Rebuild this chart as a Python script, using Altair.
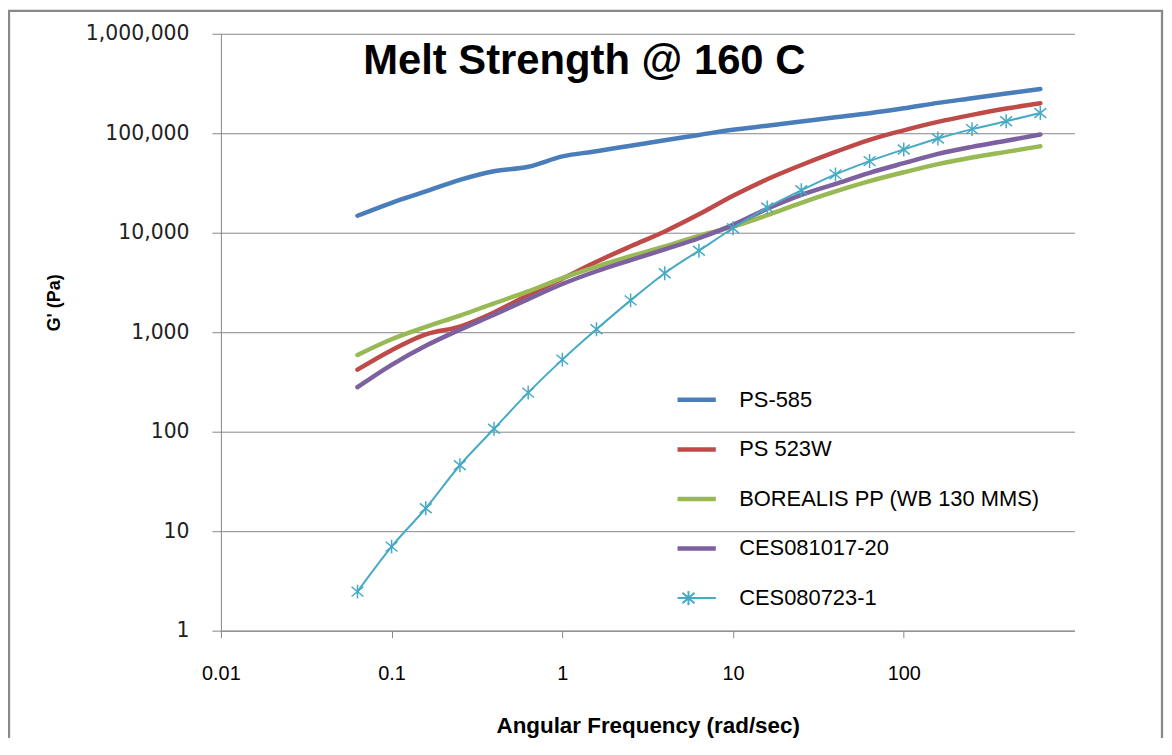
import altair as alt
import pandas as pd

# ---------------- data ----------------
freq = [0.0631, 0.1, 0.1585, 0.2512, 0.3981, 0.631, 1.0, 1.585, 2.512, 3.981,
        6.31, 10.0, 15.85, 25.12, 39.81, 63.1, 100.0, 158.5, 251.2, 398.1, 631.0]

ps585 = [14800, 20000, 26000, 34000, 41500, 46000, 58500, 66000, 75000, 85000,
         96000, 108500, 119000, 131000, 144500, 159000, 178000, 202000, 225000, 251000, 279000]
ps523w = [420, 660, 950, 1140, 1580, 2370, 3450, 5100, 7300, 10300,
          15300, 23500, 34500, 48000, 65000, 86000, 107000, 130000, 153000, 177000, 200000]
borealis = [590, 850, 1130, 1470, 1950, 2570, 3500, 4570, 5800, 7300,
            9300, 11500, 15000, 20000, 26000, 33000, 40500, 49000, 57000, 65000, 74000]
ces081017 = [280, 470, 730, 1060, 1500, 2150, 3050, 4100, 5300, 6800,
             8800, 12000, 17400, 24000, 31000, 40000, 50000, 62000, 73000, 84000, 97000]
ces080723 = [2.47, 7.0, 17, 46, 107, 247, 530, 1070, 2090, 3920,
             6600, 11100, 17900, 26700, 38600, 52500, 68700, 88500, 110000, 132000, 160000]

series_names = ["PS-585", "PS 523W", "BOREALIS PP (WB 130 MMS)", "CES081017-20", "CES080723-1"]
series_values = [ps585, ps523w, borealis, ces081017, ces080723]
colors = ["#4A7EBB", "#BE4B48", "#98B954", "#7D60A0", "#46AAC5"]
marker_series = "CES080723-1"

x_ticks = [0.01, 0.1, 1, 10, 100]
y_ticks = [1, 10, 100, 1000, 10000, 100000, 1000000]

chart_title = "Melt Strength @ 160 C"
x_title = "Angular Frequency (rad/sec)"
y_title = "G' (Pa)"

rows = []
for name, vals in zip(series_names, series_values):
    for f, v in zip(freq, vals):
        rows.append({"freq": f, "G": v, "series": name})
df = pd.DataFrame(rows)

# ---------------- styling ----------------
W, H = 858, 600
GRID = "#868686"
STAR = "M0,-1L0,1M-0.85,-0.7L0.85,0.7M-0.85,0.7L0.85,-0.7"
LEG_STAR = "M-1,0L1,0M0,-0.26L0,0.26M-0.22,-0.19L0.22,0.19M-0.22,0.19L0.22,-0.19"

x_enc = alt.X(
    "freq:Q",
    scale=alt.Scale(type="log", domain=[0.01, 1000], nice=False),
    axis=alt.Axis(
        values=x_ticks, format="~g", title=x_title, grid=False,
        domainColor=GRID, domainWidth=1, tickColor=GRID, tickSize=7, tickWidth=1,
        labelFont="Liberation Sans", labelFontSize=20, labelColor="#000000",
        labelBaseline="alphabetic", labelPadding=42, labelFlush=False, labelOverlap=False,
        titleFont="Liberation Sans", titleFontWeight="bold", titleFontSize=22.5, titleColor="#000000",
        titleX=W / 2, titleY=102, titleAlign="center", titleBaseline="alphabetic",
    ),
)
y_enc = alt.Y(
    "G:Q",
    scale=alt.Scale(type="log", domain=[1, 1000000], nice=False),
    axis=alt.Axis(
        values=y_ticks, format=",", title=y_title, grid=True, gridColor=GRID, gridWidth=1,
        domainColor=GRID, domainWidth=1, tickColor=GRID, tickSize=9, tickWidth=1,
        labelFont="DejaVu Sans", labelFontSize=20.5, labelColor="#222222",
        labelPadding=23, labelFlush=False, labelOverlap=False,
        titleFont="Liberation Sans", titleFontWeight="bold", titleFontSize=18, titleColor="#000000",
        titleAngle=270, titleX=-167, titleY=270, titleAlign="center", titleBaseline="middle",
    ),
)

legend = alt.Legend(
    title=None, orient="none", legendX=459, legendY=357, direction="vertical",
    symbolType=alt.ExprRef(expr=f"datum.value === '{marker_series}' ? '{LEG_STAR}' : 'stroke'"),
    symbolSize=3025,
    symbolStrokeWidth=alt.ExprRef(expr=f"datum.value === '{marker_series}' ? 2 : 4.5"),
    labelFont="Liberation Sans", labelFontSize=22, labelColor="#000000", labelOffset=40,
    rowPadding=27.8, clipHeight=22, padding=0, symbolOffset=0, labelLimit=500,
)

lines = alt.Chart(df).mark_line(interpolate="monotone", strokeCap="round", strokeJoin="round").encode(
    x=x_enc,
    y=y_enc,
    color=alt.Color("series:N", scale=alt.Scale(domain=series_names, range=colors),
                    sort=series_names, legend=legend),
    strokeWidth=alt.condition(alt.datum.series == marker_series, alt.value(2), alt.value(4.5)),
)

points = alt.Chart(df).transform_filter(alt.datum.series == marker_series).mark_point(
    shape=STAR, filled=False, size=196, strokeWidth=1.5, color=colors[4], opacity=1
).encode(x=x_enc, y=y_enc)

title = alt.Chart(pd.DataFrame({"t": [chart_title]})).mark_text(
    align="left", baseline="alphabetic", font="Liberation Sans", fontWeight="bold",
    fontSize=42, color="#000000"
).encode(x=alt.value(143), y=alt.value(40), text="t:N")

border = alt.Chart(pd.DataFrame({"b": [0]})).mark_rect(
    fillOpacity=0, stroke="#898989", strokeWidth=2.3
).encode(x=alt.value(-213), x2=alt.value(946), y=alt.value(-23), y2=alt.value(760))

chart = alt.layer(border, lines, points, title).properties(
    width=W, height=H,
    padding={"left": 214, "top": 24, "right": 90, "bottom": 106},
    autosize=alt.AutoSizeParams(type="none"),
    background="white",
).configure_view(stroke=None)

chart.save("out.html", embed_options={"renderer": "svg", "actions": False})
